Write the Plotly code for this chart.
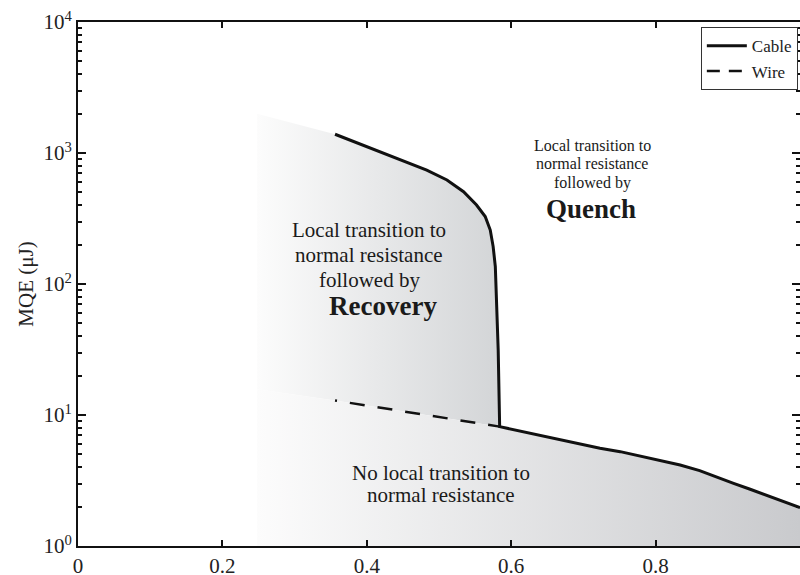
import plotly.graph_objects as go

# ---- data ----
cable_x = [0.356, 0.400, 0.446, 0.483, 0.511, 0.534, 0.552, 0.564, 0.571, 0.575, 0.578,
           0.580, 0.582, 0.584,
           0.650, 0.723, 0.751, 0.778, 0.804, 0.834, 0.861, 0.885, 0.908, 0.931, 0.954,
           0.993, 1.000]
cable_y = [1390, 1117, 893, 740, 622, 506, 401, 327, 258, 193, 136,
           75.5, 31.3, 8.15,
           6.83, 5.57, 5.25, 4.86, 4.53, 4.15, 3.76, 3.38, 3.01, 2.71, 2.44,
           2.02, 1.96]
wire_x = [0.356, 0.584]
wire_y = [12.9, 8.15]

# region boundaries (faded left edge of shaded regions)
shade_left_x = 0.248
shade_top_y = 1995
shade_mid_y = 15.7
axis_min_y = 1
n_upper = 14  # cable points that bound the "Recovery" region

ytick_vals = [1, 10, 100, 1000, 10000]
ytick_text = ["10<sup>0</sup>", "10<sup>1</sup>", "10<sup>2</sup>", "10<sup>3</sup>", "10<sup>4</sup>"]
xtick_vals = [0, 0.2, 0.4, 0.6, 0.8, 1.0]
xtick_text = ["0", "0.2", "0.4", "0.6", "0.8", "1"]

FONT = "Liberation Serif, Times New Roman, serif"

fig = go.Figure()

# Upper shaded region (Recovery)
up_x = [shade_left_x] + cable_x[:n_upper] + [wire_x[0], shade_left_x]
up_y = [shade_top_y] + cable_y[:n_upper] + [wire_y[0], shade_mid_y]
fig.add_trace(go.Scatter(
    x=up_x, y=up_y, mode="lines", fill="toself", line=dict(width=0),
    fillgradient=dict(type="horizontal", colorscale=[[0, "#fcfcfc"], [1, "#d3d5d7"]],
                      start=shade_left_x, stop=cable_x[n_upper - 1]),
    hoverinfo="skip", showlegend=False))

# Lower shaded region (no transition)
lo_x = [shade_left_x] + wire_x + cable_x[n_upper:] + [cable_x[-1], shade_left_x]
lo_y = [shade_mid_y] + wire_y + cable_y[n_upper:] + [axis_min_y, axis_min_y]
fig.add_trace(go.Scatter(
    x=lo_x, y=lo_y, mode="lines", fill="toself", line=dict(width=0),
    fillgradient=dict(type="horizontal", colorscale=[[0, "#fcfcfc"], [1, "#c9cacd"]],
                      start=shade_left_x, stop=cable_x[-1]),
    hoverinfo="skip", showlegend=False))

fig.add_trace(go.Scatter(x=cable_x, y=cable_y, mode="lines", name="Cable",
                         line=dict(color="#111", width=3)))
wire_dash = "2px,13px," + ",".join(["15px,13px"] * 8)
fig.add_trace(go.Scatter(x=wire_x, y=wire_y, mode="lines", name="Wire", showlegend=False,
                         line=dict(color="#111", width=2.5, dash=wire_dash)))
# legend entry for the wire (plain dashes, as in the reference legend)
fig.add_trace(go.Scatter(x=[None], y=[None], mode="lines", name="Wire",
                         line=dict(color="#111", width=2.5, dash="13px,9px")))
# empty trace to activate the right-hand tick axis
fig.add_trace(go.Scatter(x=[], y=[], yaxis="y2", showlegend=False, hoverinfo="skip"))

minor_vals = [m * 10 ** d for d in range(4) for m in range(2, 10)]

yaxis_common = dict(
    type="log", range=[0, 4], tickvals=ytick_vals, ticks="inside", ticklen=8, tickwidth=2,
    tickcolor="#111", showgrid=False, zeroline=False,
    minor=dict(tickvals=minor_vals, ticks="inside", ticklen=4, tickwidth=2,
               tickcolor="#111", showgrid=False),
)

fig.update_layout(
    width=800, height=575,
    margin=dict(l=78, r=0, t=22, b=29),
    paper_bgcolor="white", plot_bgcolor="white",
    font=dict(family=FONT, color="#111"),
    xaxis=dict(range=[0, 1], tickvals=xtick_vals, ticktext=xtick_text, ticks="inside",
               ticklen=6, tickwidth=2, tickcolor="#111", showline=True, linewidth=2,
               linecolor="#111", mirror="ticks", showgrid=False, zeroline=False,
               tickfont=dict(size=21, family=FONT, color="#222"), automargin=False),
    yaxis=dict(**yaxis_common, ticktext=ytick_text, showline=True, linewidth=2,
               linecolor="#111", mirror=False,
               tickfont=dict(size=21, family=FONT, color="#222"), automargin=False,
               title=dict(text="MQE (μJ)", font=dict(size=21, family=FONT, color="#222"),
                          standoff=4)),
    yaxis2=dict(**yaxis_common, overlaying="y", side="right", showline=False,
                showticklabels=False),
    legend=dict(x=0.997, xanchor="right", y=0.99, yanchor="top", bgcolor="white",
                bordercolor="#333", borderwidth=1, font=dict(size=17, family=FONT, color="#222"),
                tracegroupgap=0, itemwidth=40),
    showlegend=True,
)

def px2paper(px, py):
    return (px - 78) / 722.0, (546 - py) / 524.0

def add_text(px, py, text, size, bold=False):
    x, y = px2paper(px, py)
    fig.add_annotation(x=x, y=y, xref="paper", yref="paper", xanchor="center", yanchor="middle",
                       text=(f"<b>{text}</b>" if bold else text),
                       showarrow=False, align="center",
                       font=dict(size=size, family=FONT, color="#1a1a1a",
                                 weight=("bold" if bold else "normal")))

for py, line in zip([230, 255, 280], ["Local transition to", "normal resistance", "followed by"]):
    add_text(369, py, line, 21)
add_text(383, 306, "Recovery", 27, bold=True)
for py, line in zip([145, 164, 183], ["Local transition to", "normal resistance", "followed by"]):
    add_text(592, py, line, 16)
add_text(591, 209, "Quench", 27, bold=True)
for py, line in zip([473, 495], ["No local transition to", "normal resistance"]):
    add_text(441, py, line, 21)

fig.write_html("out.html")
